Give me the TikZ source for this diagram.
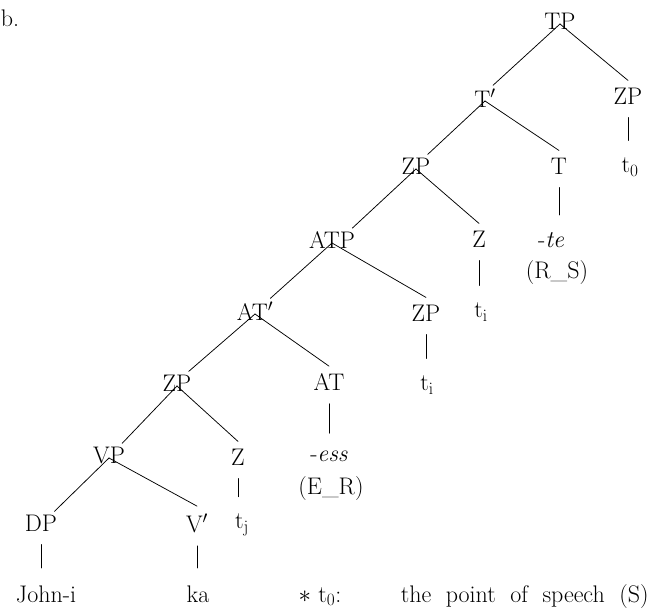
\documentclass[tikz,border=0pt]{standalone}
\tikzset{
  cat/.style={inner sep=1pt},
  leaf/.style={inner sep=1pt, anchor=base},
  stem/.style={shorten <=12pt, shorten >=16pt}
}
\begin{document}
\begin{tikzpicture}[x=1pt, y=-1pt, font=\fontsize{24}{28}\selectfont, line width=0.75pt, line join=round, line cap=round]
	\useasboundingbox (0,0) rectangle (652,610);
	\node[cat] (lbl) at (10,18) {b.};
	\node[cat] (TP) at (560,21) {TP};
	\node[cat] (Tb) at (485,98) {T$'$};
	\node[cat] (ZPr) at (628,96) {ZP};
	\node[cat] (tz) at (630,167) {t$_0$};
	\node[cat] (ZPa) at (416,166) {ZP};
	\node[cat] (T) at (559,166) {T};
	\node[cat] (te) at (551,240) {-\textit{te}};
	\node[cat] (RS) at (557,273) {(R\_S)};
	\node[cat] (ATP) at (332,240) {ATP};
	\node[cat] (Za) at (479,239) {Z};
	\node[cat] (tia) at (481,312) {t$_\mathrm{i}$};
	\node[cat] (ATb) at (255,311) {AT$'$};
	\node[cat] (ZPc) at (426,313) {ZP};
	\node[cat] (tic) at (427,385) {t$_\mathrm{i}$};
	\node[cat] (ZPb) at (177,383) {ZP};
	\node[cat] (AT) at (329,382) {AT};
	\node[cat] (ess) at (329,456) {-\textit{ess}};
	\node[cat] (ER) at (331,489) {(E\_R)};
	\node[cat] (VP) at (109,455) {VP};
	\node[cat] (Zb) at (238,457) {Z};
	\node[cat] (tj) at (242,525) {t$_\mathrm{j}$};
	\node[cat] (DP) at (41,523) {DP};
	\node[cat] (Vb) at (197,523) {V$'$};
	\node[leaf] (John) at (46,602) {John-i};
	\node[leaf] (ka) at (198,602) {ka};
	\node[leaf] (note) at (320,602) {$\ast$ t$_0$:};
	\node[leaf, anchor=base east] (speech) at (650,602) {the\ \ point\ \ of\ \ speech\ \ (S)};
	\foreach \a/\b in {TP/Tb, Tb/ZPa, ZPa/ATP, ATP/ATb, ATb/ZPb, ZPb/VP, VP/DP}
	\draw ([yshift=-3pt]\a.center) -- ([xshift=-4pt,yshift=2pt]\b.north east);
	\foreach \a/\b in {TP/ZPr, Tb/T, ZPa/Za, ATP/ZPc, ATb/AT, ZPb/Zb, VP/Vb}
	\draw ([yshift=-3pt]\a.center) -- ([yshift=6pt]\b.north);
	\foreach \a/\b in {ZPr/tz, T/te, Za/tia, ZPc/tic, AT/ess, Zb/tj, DP/John, Vb/ka}
	\draw[stem] (\a.south) -- (\a.south |- \b.north);
\end{tikzpicture}
\end{document}
